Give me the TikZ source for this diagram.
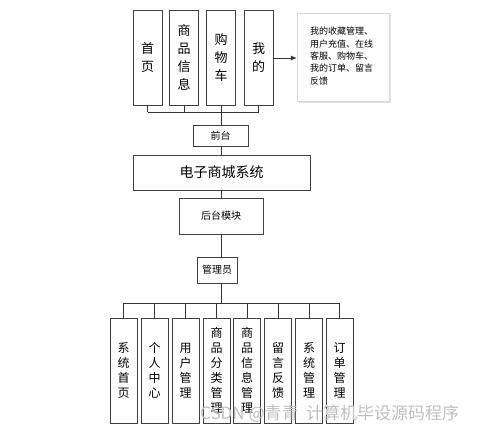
\documentclass[tikz,border=0pt]{standalone}
\usepackage{fontspec}
\newfontfamily\cjk{Noto Sans CJK SC}
\usetikzlibrary{arrows.meta,shadows}
\begin{document}
\begin{tikzpicture}[x=1pt,y=-1pt,
  box/.style={draw=black!75,line width=0.8pt,fill=white,inner sep=0pt,align=center},
  topbox/.style={box,minimum width=29pt,minimum height=95pt,font={\cjk\fontsize{13}{18}\selectfont}},
  botbox/.style={box,minimum width=27pt,minimum height=105pt,font={\cjk\fontsize{12}{15}\selectfont}},
  midbox/.style={box,font={\cjk\fontsize{10}{12}\selectfont}},
  conn/.style={draw=black!80,line width=0.8pt}]
\useasboundingbox (0,0) rectangle (500,434);
% top row
\node[topbox] (t1) at (147.5,57.5) {首\\页};
\node[topbox] (t2) at (184,57.5) {商\\品\\信\\息};
\node[topbox] (t3) at (221,57.5) {购\\物\\车};
\node[topbox] (t4) at (258.5,57.5) {我\\的};
\node[draw=black!15,fill=white,drop shadow={opacity=0.25,shadow xshift=1.5pt,shadow yshift=-1.5pt},
  minimum width=92pt,minimum height=88pt,inner sep=0pt] (note) at (343,57) {};
\node[anchor=west,text width=72pt,align=left,inner sep=0pt,font={\cjk\fontsize{9}{12.3}\selectfont}] (notetxt) at (310,56)
  {我的收藏管理、\\用户充值、在线\\客服、购物车、\\我的订单、留言\\反馈};
\draw[conn,-{Latex[length=6pt,width=5pt]}] (t4.east |- 0,58) -- (note.west |- 0,58);
% middle
\node[midbox,minimum width=55pt,minimum height=21pt] (qt) at (220.5,135.5) {前台};
\node[midbox,minimum width=177pt,minimum height=35pt,font={\cjk\fontsize{14}{16}\selectfont}] (sys) at (221.5,172.5) {电子商城系统};
\node[midbox,minimum width=84pt,minimum height=36pt] (ht) at (221,216) {后台模块};
\node[midbox,minimum width=40pt,minimum height=26pt] (gly) at (217,270) {管理员};
\coordinate (jt) at (221,112);
\foreach \n in {t1,t2,t3,t4} \draw[conn] (\n.south) -- (\n.south |- jt);
\draw[conn] (t1.south |- jt) -- (t4.south |- jt);
\draw[conn] (jt) -- (jt |- qt.north);
\draw[conn] (qt.south -| jt) -- (sys.north -| jt);
\draw[conn] (sys.south -| jt) -- (ht.north -| jt);
\draw[conn] (ht.south -| jt) -- (gly.north -| jt);
% bottom row
\node[botbox] (b1) at (123.5,370.5) {系\\统\\首\\页};
\node[botbox] (b2) at (154.5,370.5) {个\\人\\中\\心};
\node[botbox] (b3) at (185.5,370.5) {用\\户\\管\\理};
\node[botbox] (b4) at (216.5,370.5) {商\\品\\分\\类\\管\\理};
\node[botbox] (b5) at (247,370.5) {商\\品\\信\\息\\管\\理};
\node[botbox] (b6) at (278,370.5) {留\\言\\反\\馈};
\node[botbox] (b7) at (309,370.5) {系\\统\\管\\理};
\node[botbox] (b8) at (339.5,370.5) {订\\单\\管\\理};
\coordinate (jb) at (221,303);
\draw[conn] (gly.south -| jb) -- (jb);
\draw[conn] (b1.north |- jb) -- (b8.north |- jb);
\foreach \n in {b1,b2,b3,b4,b5,b6,b7,b8} \draw[conn] (\n.north |- jb) -- (\n.north);
% watermark
\node[anchor=west,text=black!25,inner sep=0pt,font={\cjk\fontsize{17}{19}\selectfont}] (wm) at (200,414) {CSDN @青青\ \ 计算机毕设源码程序};
\end{tikzpicture}
\end{document}
